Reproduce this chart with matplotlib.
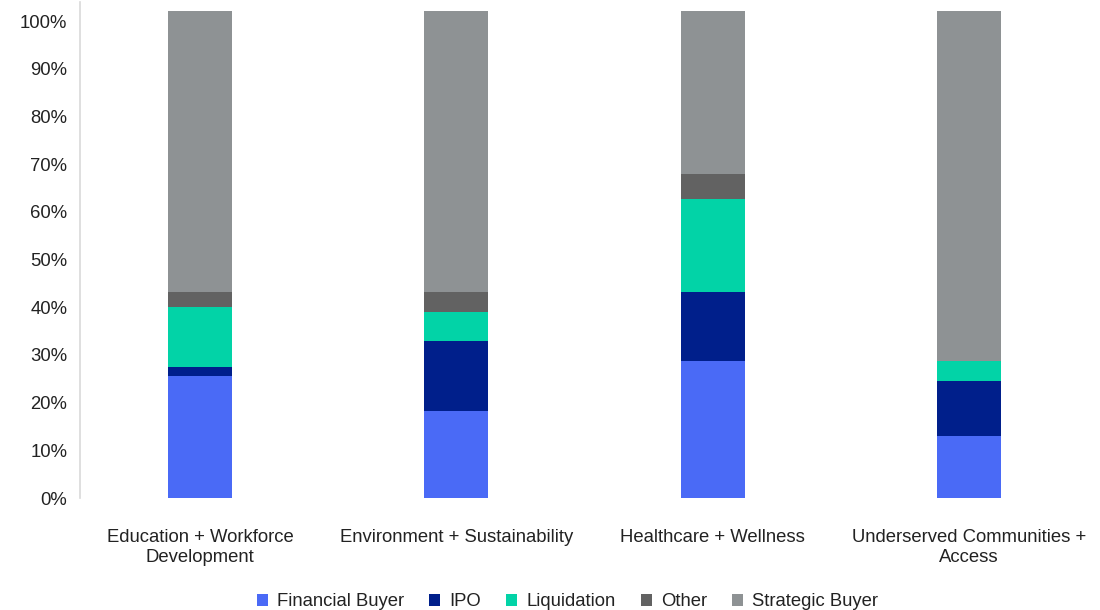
import matplotlib
matplotlib.use("Agg")
import matplotlib.pyplot as plt
import numpy as np

categories = ["Education + Workforce\nDevelopment", "Environment + Sustainability",
              "Healthcare + Wellness", "Underserved Communities +\nAccess"]
series_names = ["Financial Buyer", "IPO", "Liquidation", "Other", "Strategic Buyer"]
financial_buyer = [25.6, 18.3, 28.7, 13.1]
ipo = [1.9, 14.6, 14.5, 11.4]
liquidation = [12.6, 6.1, 19.5, 4.2]
other = [3.0, 4.1, 5.2, 0.0]
strategic_buyer = [59.0, 59.0, 34.2, 73.4]
yticks = [0, 10, 20, 30, 40, 50, 60, 70, 80, 90, 100]
colors = ["#4a6af6", "#001f8b", "#02d3a7", "#626262", "#8e9294"]

plt.rcParams['font.family'] = ['Liberation Sans', 'DejaVu Sans']

fig = plt.figure(figsize=(11, 6.1), dpi=100)
ax = fig.add_axes([0.0727, 0.1836, 0.99 - 0.0727, 0.9967 - 0.1836])

x = np.arange(len(categories))
bottom = np.zeros(len(categories))
for name, vals, c in zip(series_names,
                         [financial_buyer, ipo, liquidation, other, strategic_buyer], colors):
    ax.bar(x, vals, bottom=bottom, width=0.25, color=c, label=name)
    bottom += np.array(vals)

ax.set_xlim(-0.468, 3.468)
ax.set_ylim(0, 104)
ax.set_yticks(yticks)
ax.set_yticklabels([f"{v}%" for v in yticks], fontsize=13.3, color="#222222")
ax.set_xticks(x)
ax.set_xticklabels(categories, fontsize=13.3, color="#222222", linespacing=1.25)
ax.tick_params(axis='both', length=0)
ax.tick_params(axis='x', pad=22)
ax.tick_params(axis='y', pad=9)
for s in ["top", "right", "bottom"]:
    ax.spines[s].set_visible(False)
ax.spines["left"].set_color("#d9d9d9")
ax.spines["left"].set_linewidth(1.2)

fig.legend(loc="lower center", bbox_to_anchor=(0.516, -0.028), ncol=5, frameon=False,
           fontsize=13.3, handlelength=0.6, handleheight=0.6, columnspacing=1.35,
           handletextpad=0.5, labelcolor="#222222")

fig.savefig("out.png", dpi=100)
